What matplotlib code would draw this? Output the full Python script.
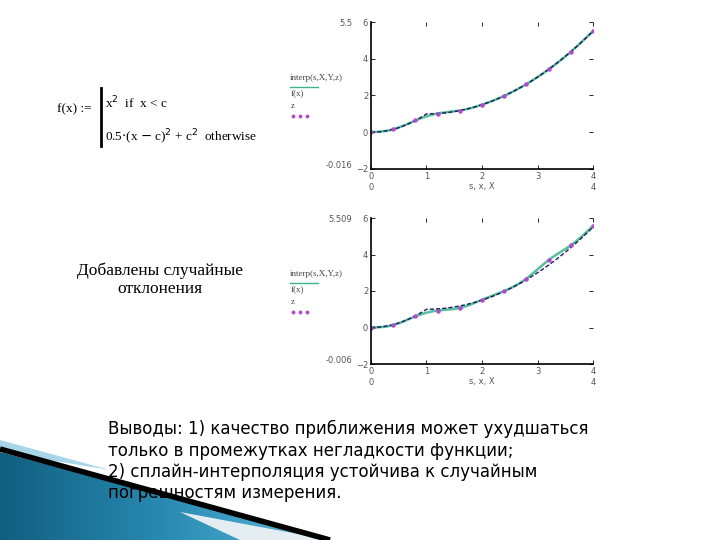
import numpy as np
import matplotlib.pyplot as plt
from matplotlib.patches import Polygon
from matplotlib.colors import LinearSegmentedColormap

X_nodes = [0.0, 0.4, 0.8, 1.2, 1.6, 2.0, 2.4, 2.8, 3.2, 3.6, 4.0]
Y_exact = [0.0, 0.16, 0.64, 1.02, 1.18, 1.5, 1.98, 2.62, 3.42, 4.38, 5.5]
Y_noisy = [0.0, 0.13, 0.61, 0.93, 1.07, 1.52, 2.0, 2.68, 3.7, 4.5, 5.57]

c = 1.0  # точка излома функции
x_ticks = [0, 1, 2, 3, 4]
y_ticks = [-2, 0, 2, 4, 6]
top_labels = ["5.5", "5.509"]
bottom_labels = ["-0.016", "-0.006"]

W, H = 720, 540


# Исходная функция f(x) с формулы на слайде
def f(x):
    return np.where(x < c, x**2, 0.5 * (x - c)**2 + c**2)


# Кубический сплайн с нулевыми вторыми производными на концах
def natural_spline(xk, yk, xs):
    xk = np.asarray(xk, float)
    yk = np.asarray(yk, float)
    n = len(xk)
    h = np.diff(xk)
    A = np.zeros((n, n))
    b = np.zeros(n)
    A[0, 0] = A[-1, -1] = 1.0
    for i in range(1, n - 1):
        A[i, i - 1] = h[i - 1]
        A[i, i] = 2 * (h[i - 1] + h[i])
        A[i, i + 1] = h[i]
        b[i] = 6 * ((yk[i + 1] - yk[i]) / h[i] - (yk[i] - yk[i - 1]) / h[i - 1])
    M = np.linalg.solve(A, b)
    idx = np.clip(np.searchsorted(xk, xs) - 1, 0, n - 2)
    x0, x1 = xk[idx], xk[idx + 1]
    hh = x1 - x0
    t0, t1 = x1 - xs, xs - x0
    return (M[idx] * t0**3 / (6 * hh) + M[idx + 1] * t1**3 / (6 * hh)
            + (yk[idx] / hh - M[idx] * hh / 6) * t0
            + (yk[idx + 1] / hh - M[idx + 1] * hh / 6) * t1)


fig = plt.figure(figsize=(7.2, 5.4), dpi=100)

# Фоновый слой в пиксельных координатах слайда
bg = fig.add_axes([0, 0, 1, 1], zorder=0)
bg.set_xlim(0, W)
bg.set_ylim(H, 0)
bg.axis("off")

# Голубой клин в левом нижнем углу
grad = np.linspace(0, 1, 256).reshape(1, -1)
cmap = LinearSegmentedColormap.from_list("wedge", ["#105f80", "#2a8ab2", "#5ab8da"])
img = bg.imshow(grad, cmap=cmap, extent=(0, 330, 540, 440), aspect="auto", zorder=1)
wedge = Polygon([(0, 452), (330, 540), (0, 540)], closed=True, transform=bg.transData)
img.set_clip_path(wedge)
bg.add_patch(Polygon([(0, 440), (110, 470), (0, 452)], closed=True,
                     facecolor="#a8d6e8", edgecolor="none", zorder=1))
bg.add_patch(Polygon([(180, 512), (330, 540), (240, 540)], closed=True,
                     facecolor="#e4eef2", edgecolor="none", zorder=1))
bg.plot([0, 330], [449, 540], color="black", lw=4, solid_capstyle="butt", zorder=2)

# Формула функции
serif = "Liberation Serif"
bg.text(57, 112, "f(x) :=", fontsize=9.5, family=serif, va="baseline", zorder=3)
bg.plot([101, 101], [88, 146], color="black", lw=2, zorder=3)
bg.text(105, 108, r"x$^{2}$  if  x < c", fontsize=9.5, family=serif, va="baseline", zorder=3)
bg.text(105, 142, r"0.5$\cdot$(x $-$ c)$^{2}$ + c$^{2}$  otherwise", fontsize=9.5,
        family=serif, va="baseline", zorder=3)

bg.text(160, 280, "Добавлены случайные\nотклонения", fontsize=12.5, family=serif,
        ha="center", va="center", linespacing=1.15, zorder=3)

bg.text(108, 420, "Выводы: 1) качество приближения может ухудшаться\n"
        "только в промежутках негладкости функции;\n"
        "2) сплайн-интерполяция устойчива к случайным\n"
        "погрешностям измерения.", fontsize=12, family="DejaVu Sans",
        ha="left", va="top", linespacing=1.24, zorder=3)

xs = np.linspace(0, 4, 400)
panels = [(22, 169, Y_exact, 80), (218, 364, Y_noisy, 276)]

for k, (top, bottom, Yk, leg_y) in enumerate(panels):
    ax = fig.add_axes([371 / W, 1 - bottom / H, 222 / W, (bottom - top) / H], zorder=2)
    ax.plot(xs, natural_spline(X_nodes, Yk, xs), color="#3bb48c", lw=1.8, alpha=0.85)
    ax.plot(xs, f(xs), color="#1b1b5e", lw=1.0, dashes=(3, 1.5))
    ax.plot(X_nodes, Yk, "o", color="#b548cc", ms=3.2, mec="none")
    ax.set_xlim(0, 4)
    ax.set_ylim(-2, 6)
    ax.set_xticks(x_ticks)
    ax.set_yticks(y_ticks)
    ax.tick_params(direction="in", length=3, width=0.6, top=True, right=True,
                   labelsize=6, labelcolor="#555555", pad=2)
    for s in ["top", "right"]:
        ax.spines[s].set_visible(False)
    for s in ["left", "bottom"]:
        ax.spines[s].set_linewidth(1.2)
    ax.set_facecolor("none")

    # Подписи пределов и оси, как в Mathcad
    bg.text(352, top + 4, top_labels[k], fontsize=6, color="#555555", ha="right", zorder=3)
    bg.text(352, bottom - 1, bottom_labels[k], fontsize=6, color="#555555", ha="right", zorder=3)
    bg.text(371, bottom + 21, "0", fontsize=6, color="#555555", ha="center", zorder=3)
    bg.text(593, bottom + 21, "4", fontsize=6, color="#555555", ha="center", zorder=3)
    bg.text(482, bottom + 20, "s, x, X", fontsize=6, color="#555555", ha="center", zorder=3)

    # Легенда слева от графика
    bg.text(290, leg_y, "interp(s,X,Y,z)", fontsize=6.5, family=serif, color="#444444", zorder=3)
    bg.plot([290, 318], [leg_y + 7, leg_y + 7], color="#3bb48c", lw=1, zorder=3)
    bg.text(291, leg_y + 16, "f(x)", fontsize=6.5, family=serif, color="#444444", zorder=3)
    bg.text(291, leg_y + 28, "z", fontsize=6.5, family=serif, color="#444444", zorder=3)
    bg.plot([293, 300, 307], [leg_y + 36] * 3, "o", color="#b548cc", ms=2.8, mec="none", zorder=3)

fig.savefig("out.png", dpi=100)
